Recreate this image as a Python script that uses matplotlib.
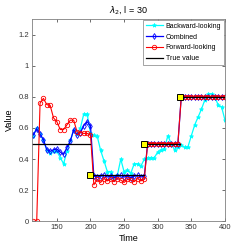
import numpy as np
import matplotlib
matplotlib.use('Agg')
import matplotlib.pyplot as plt
from matplotlib.ticker import FuncFormatter

plt.rcParams['font.family'] = ['Liberation Sans', 'DejaVu Sans']

# time grid
t = np.arange(115, 401, 5)

backward = [0.55, 0.60, 0.56, 0.52, 0.46, 0.44, 0.45, 0.45, 0.41, 0.37,
            0.45, 0.52, 0.585, 0.56, 0.60, 0.69, 0.69, 0.565, 0.553, 0.547,
            0.457, 0.39, 0.32, 0.32, 0.275, 0.297, 0.40, 0.318, 0.33, 0.31,
            0.37, 0.37, 0.355, 0.40, 0.41, 0.41, 0.41, 0.445, 0.46, 0.468,
            0.55, 0.50, 0.46, 0.48, 0.49, 0.475, 0.48, 0.55, 0.62, 0.67,
            0.72, 0.78, 0.82, 0.82, 0.80, 0.745, 0.735, 0.65]

combined = [0.555, 0.595, 0.56, 0.525, 0.46, 0.45, 0.46, 0.465, 0.445, 0.43,
            0.475, 0.515, 0.59, 0.555, 0.57, 0.615, 0.64, 0.615, 0.29, 0.285,
            0.29, 0.295, 0.285, 0.29, 0.28, 0.29, 0.295, 0.285, 0.29, 0.28,
            0.29, 0.295, 0.285, 0.29, 0.50, 0.50, 0.50, 0.50, 0.50, 0.50,
            0.50, 0.50, 0.50, 0.50, 0.80, 0.80, 0.80, 0.80, 0.80, 0.80,
            0.80, 0.80, 0.80, 0.80, 0.80, 0.80, 0.80, 0.80]

forward = [0.0, 0.0, 0.76, 0.79, 0.75, 0.745, 0.665, 0.64, 0.59, 0.59,
           0.62, 0.65, 0.65, 0.575, 0.57, 0.565, 0.565, 0.555, 0.235, 0.27,
           0.25, 0.275, 0.26, 0.27, 0.255, 0.275, 0.265, 0.25, 0.27, 0.265,
           0.255, 0.275, 0.26, 0.27, 0.50, 0.50, 0.50, 0.50, 0.50, 0.50,
           0.50, 0.50, 0.50, 0.50, 0.80, 0.80, 0.80, 0.80, 0.80, 0.80,
           0.80, 0.80, 0.80, 0.80, 0.80, 0.80, 0.80, 0.80]

# true value segments (NaN breaks)
true_t = [113, 200, np.nan, 200, 280, np.nan, 280, 333, np.nan, 333, 400]
true_v = [0.5, 0.5, np.nan, 0.3, 0.3, np.nan, 0.5, 0.5, np.nan, 0.8, 0.8]

# change points
cp_t = [200, 280, 333]
cp_v = [0.3, 0.5, 0.8]

fig = plt.figure(figsize=(2.49, 2.49), dpi=100)
ax = fig.add_axes([0.1285, 0.111, 0.775, 0.8127])

ax.plot(t, backward, color='#00FFFF', marker='*', ms=3, mew=0.6, lw=0.9,
        label='Backward-looking')
ax.plot(t, combined, color='#0000FF', marker='d', ms=3, mfc='none', mew=0.6,
        lw=0.9, label='Combined')
ax.plot(t, forward, color='#FF0000', marker='o', ms=3.2, mfc='none', mew=0.6,
        lw=0.8, label='Forward-looking')
ax.plot(true_t, true_v, color='black', lw=0.9, label='True value')
ax.plot(cp_t, cp_v, ls='none', marker='s', ms=4.5, mfc='#FFFF00', mec='black',
        mew=0.7)

ax.set_xlim(113, 400)
ax.set_ylim(0, 1.3)
ax.set_xticks([150, 200, 250, 300, 350, 400])
ax.set_yticks([0, 0.2, 0.4, 0.6, 0.8, 1.0, 1.2])
ax.yaxis.set_major_formatter(FuncFormatter(lambda v, p: '%g' % v))
ax.tick_params(direction='in', length=2, width=0.5, labelsize=5.5,
               colors='#333333', top=True, right=True, pad=2)
for s in ax.spines.values():
    s.set_color('#808080')
    s.set_linewidth(0.6)

ax.set_title(r'$\lambda_2$, l = 30', fontsize=6.5, pad=5)
ax.set_xlabel('Time', fontsize=6.5, labelpad=2)
ax.set_ylabel('Value', fontsize=6.5, labelpad=3)

leg = ax.legend(loc='upper right', fontsize=5, fancybox=False, framealpha=1,
                edgecolor='#808080', borderaxespad=0.2, handlelength=2.5,
                labelspacing=0.55, borderpad=0.35, handletextpad=0.4)
leg.get_frame().set_linewidth(0.5)

fig.savefig('out.png', dpi=100)
